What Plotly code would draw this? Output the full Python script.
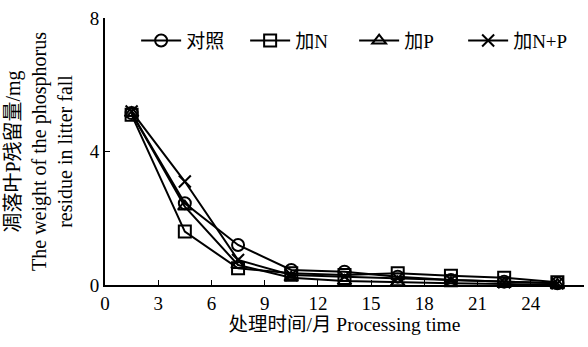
import plotly.graph_objects as go

months = [1.5, 4.5, 7.5, 10.5, 13.5, 16.5, 19.5, 22.5, 25.5]
series_names = ["对照", "加N", "加P", "加N+P"]
ck = [5.15, 2.45, 1.2, 0.45, 0.4, 0.25, 0.15, 0.1, 0.05]
add_n = [5.1, 1.6, 0.5, 0.35, 0.3, 0.35, 0.28, 0.22, 0.08]
add_p = [5.15, 2.35, 0.6, 0.22, 0.12, 0.08, 0.05, 0.03, 0.0]
add_np = [5.2, 3.1, 0.75, 0.3, 0.25, 0.2, 0.15, 0.08, 0.05]
x_ticks = [0, 3, 6, 9, 12, 15, 18, 21, 24]
y_ticks = [0, 4, 8]

symbols = ["circle-open", "square-open", "triangle-up-open", "x-thin-open"]
values = [ck, add_n, add_p, add_np]

FONT = "Liberation Serif, Noto Sans CJK SC, serif"

fig = go.Figure()
for name, vals, sym in zip(series_names, values, symbols):
    fig.add_trace(go.Scatter(
        x=months, y=vals, name=name, mode="lines+markers",
        line=dict(color="black", width=2),
        marker=dict(symbol=sym, size=12, color="black",
                    line=dict(color="black", width=2)),
        cliponaxis=False,
    ))

fig.update_layout(
    width=588, height=347,
    margin=dict(l=105, r=4, t=18, b=62),
    paper_bgcolor="white", plot_bgcolor="white",
    font=dict(family=FONT, size=19, color="black"),
    showlegend=True,
    legend=dict(orientation="h", x=0.065, y=0.915, xanchor="left", yanchor="middle",
                bgcolor="rgba(0,0,0,0)", font=dict(size=19, family=FONT),
                itemwidth=40, entrywidth=54, entrywidthmode="pixels",
                tracegroupgap=0),
    xaxis=dict(range=[0, 27], tickvals=x_ticks, ticks="inside", ticklen=5,
               tickcolor="black", showline=True, linecolor="black", linewidth=2,
               showgrid=False, zeroline=False,
               title=dict(text="处理时间/月 Processing time", standoff=4,
                          font=dict(size=19.5, family=FONT)),
               tickfont=dict(size=19, family=FONT)),
    yaxis=dict(range=[0, 8], tickvals=y_ticks, ticks="inside", ticklen=5,
               tickcolor="black", showline=True, linecolor="black", linewidth=2,
               showgrid=False, zeroline=False,
               title=dict(text="凋落叶P残留量/mg<br>The weight of the phosphorus<br>residue in litter fall",
                          standoff=12, font=dict(size=20, family=FONT)),
               tickfont=dict(size=19, family=FONT)),
)

fig.write_html("out.html")
